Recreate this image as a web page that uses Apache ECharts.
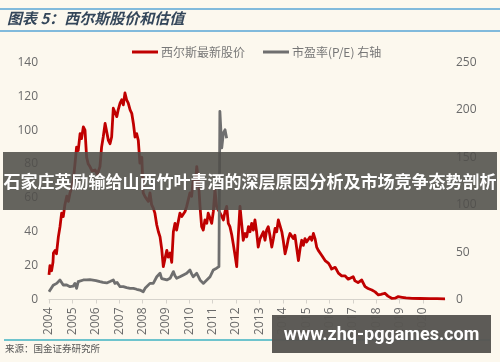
<!DOCTYPE html>
<html>
<head>
<meta charset="utf-8">
<script src="https://cdn.jsdelivr.net/npm/echarts@6/dist/echarts.min.js"></script>
<style>
html,body{margin:0;padding:0;background:#fcf8ee;}
#chart{width:500px;height:362px;}
</style>
</head>
<body>
<div id="chart"></div>
<script>
// ---- data ----
const titleText = '图表 5：西尔斯股价和估值';
const sourceText = '来源：国金证券研究所';
const bannerText = '石家庄英励输给山西竹叶青酒的深层原因分析及市场竞争态势剖析';
const watermarkText = 'www.zhq-pggames.com';
const seriesNames = ['西尔斯最新股价', '市盈率(P/E) 右轴'];
const yearTicks = [2004,2005,2006,2007,2008,2009,2010,2011,2012,2013,2014,2015,2016,2017,2018,2019,2020];
const leftTicks = [0,20,40,60,80,100,120,140];
const rightTicks = [0,50,100,150,200,250];

// share price (year, price)
const priceTimes = [2004.00,2004.04,2004.11,2004.17,2004.19,2004.26,2004.32,2004.40,2004.47,2004.54,2004.61,2004.68,2004.76,2004.83,2004.90,2004.97,
2005.04,2005.11,2005.18,2005.25,2005.33,2005.39,2005.47,2005.51,2005.54,2005.61,2005.68,2005.75,2005.84,2005.97,
2006.07,2006.18,2006.25,2006.32,2006.40,2006.44,2006.54,2006.61,2006.68,2006.75,2006.82,2006.90,2006.96,
2007.04,2007.11,2007.18,2007.25,2007.29,2007.32,2007.39,2007.47,2007.54,2007.61,2007.68,2007.75,2007.82,2007.89,2007.97,
2008.03,2008.11,2008.18,2008.25,2008.32,2008.39,2008.46,2008.53,2008.61,2008.68,2008.75,2008.82,2008.89,2008.96,
2009.04,2009.10,2009.18,2009.25,2009.32,2009.39,2009.46,2009.53,2009.60,2009.68,2009.75,2009.82,2009.89,2009.96,
2010.03,2010.10,2010.17,2010.25,2010.32,2010.39,2010.46,2010.53,2010.60,2010.67,2010.75,2010.81,2010.89,2010.96,
2011.03,2011.10,2011.17,2011.24,2011.36,2011.46,2011.53,2011.60,2011.67,2011.74,2011.82,2011.88,2011.96,
2012.03,2012.10,2012.17,2012.24,2012.31,2012.39,2012.46,2012.53,2012.60,2012.67,2012.74,2012.81,2012.88,2012.95,
2013.03,2013.10,2013.17,2013.24,2013.31,2013.38,2013.45,2013.53,2013.60,2013.67,2013.74,2013.81,2013.88,2013.96,
2014.02,2014.10,2014.17,2014.24,2014.31,2014.38,2014.45,2014.52,2014.60,2014.67,2014.74,2014.81,2014.88,2014.95,
2015.02,2015.09,2015.17,2015.24,2015.31,2015.38,2015.45,2015.52,2015.59,2015.67,2015.73,2015.81,2015.88,2015.95,
2016.02,2016.09,2016.16,2016.24,2016.31,2016.38,2016.45,2016.52,2016.59,2016.66,2016.74,2016.80,2016.88,
2017.01,2017.09,2017.22,2017.38,2017.52,2017.65,2017.81,2017.95,
2018.09,2018.20,2018.37,2018.50,2018.66,2018.80,2018.94,
2019.10,2019.27,2019.53,2019.87,2020.30,2020.60,2020.94];
const priceValues = [14.5,20,17,22,27.5,29,27,37,43,51,49,56,61,58,63,66,
70.6,80,90,88,98,95,102,102.5,100,84,80,78.5,76,76.5,
74,78.5,90,96,104,105,94,92,96,113,112,108,112,
116,118,115,122,122.7,118,116,112,110,104,96,98,94,80.6,84,
63,60.7,61,58,63,56,54,51,44,40,37,30,19.4,24,
29,25,27.5,22,40,45,41,46,51,49,49,52,55,54,
63,61,70.6,66,78.5,70.6,55,43,41,47,45,51,48,45,
52,64.7,55,53,50,47,52,55,45,43,38,33,26,
19.4,38,55,45,35,39,37,43,40,45,41,47,40,31,
36,37,40,35,41,43,38,31,36,42,40,47,47,40,
35,27,31,36,39,39,36,38,30,23,30,35,32,36,
34,33,37,35,39,36,31,29,28,26,25,23,23,21.5,
20,18,17.4,19,17.4,15.6,16,14,13,14,13.5,12,11.5,
13.5,11,10,11.5,7.6,6.5,5.6,4.5,
2.7,3,3.7,2,0.7,0.8,1.7,
1.3,0.9,0.7,0.6,0.5,0.5,0.4];

// P/E ratio (year, P/E) on right axis
const peTimes = [2004.00,2004.04,2004.18,2004.33,2004.40,2004.47,2004.54,2004.61,2004.76,2004.90,
2005.03,2005.11,2005.18,2005.25,2005.33,2005.47,2005.61,2005.75,2005.88,
2006.01,2006.18,2006.31,2006.47,2006.61,2006.75,2006.82,2006.91,
2007.04,2007.18,2007.32,2007.47,2007.61,2007.75,2007.89,2007.97,
2008.03,2008.11,2008.18,2008.32,2008.46,2008.61,2008.68,2008.75,2008.82,2008.89,
2009.04,2009.18,2009.32,2009.39,2009.46,2009.60,2009.75,2009.89,
2010.03,2010.10,2010.17,2010.32,2010.46,2010.60,2010.75,2010.89,
2011.03,2011.17,2011.27,2011.31,2011.39,2011.46,2011.53,2011.60];
const peValues = [8.2,10,15,17,15,20.6,18.8,15.3,15.3,13.5,
14,17,11.8,18.8,18.8,20.6,20.6,21,20.5,
20,18.8,18,17.5,19,20.6,17,18,
13.5,13.5,12.5,11.8,11.8,10.8,10,8.2,
8.2,11.8,13.5,17,17,24,26,27.7,22,20.6,
20.6,22.4,29.4,25,22.4,24,25.9,27.7,
31.2,27,24,27.7,20.6,17,20.6,24,
31.2,33,34.7,198.5,160,175.7,179,170];

// ---- chart ----
const priceData = priceTimes.map((t, i) => [t, priceValues[i]]);
const peData = peTimes.map((t, i) => [t, peValues[i]]);
const CJK = '"Noto Sans CJK SC", "Noto Sans", sans-serif';
const NUM = '"Open Sans", "Liberation Sans", sans-serif';

const chart = echarts.init(document.getElementById('chart'), null, {renderer: 'canvas'});
chart.setOption({
  backgroundColor: '#fcf8ee',
  animation: false,
  grid: {left: 49, right: 55, top: 62.5, bottom: 62.5},
  legend: {
    top: 41,
    left: 127,
    itemWidth: 26,
    itemHeight: 3,
    itemGap: 18,
    icon: 'rect',
    textStyle: {color: '#777', fontSize: 12, fontFamily: CJK, padding: [0, 0, 0, -2]},
    data: seriesNames
  },
  xAxis: {
    type: 'value',
    min: yearTicks[0],
    max: 2020.94,
    interval: 1,
    splitLine: {show: false},
    axisLine: {show: true, lineStyle: {color: '#d6d3cc', width: 1}},
    axisTick: {show: true, length: 4, lineStyle: {color: '#d6d3cc'}, customValues: yearTicks},
    axisLabel: {
      rotate: 90, margin: 8, color: '#6a6a6a', fontSize: 12, fontFamily: NUM,
      customValues: yearTicks,
      formatter: v => String(v)
    }
  },
  yAxis: [
    {
      type: 'value', min: 0, max: 140, interval: 20,
      splitLine: {show: false}, axisLine: {show: false}, axisTick: {show: false},
      axisLabel: {color: '#6a6a6a', fontSize: 12, fontFamily: NUM, margin: 11}
    },
    {
      type: 'value', min: 0, max: 250, interval: 50,
      splitLine: {show: false}, axisLine: {show: false}, axisTick: {show: false},
      axisLabel: {color: '#6a6a6a', fontSize: 12, fontFamily: NUM, margin: 11}
    }
  ],
  series: [
    {
      name: seriesNames[0], type: 'line', yAxisIndex: 0, data: priceData,
      showSymbol: false, symbol: 'none', z: 2,
      lineStyle: {color: '#c00000', width: 2.8, join: 'round'},
      itemStyle: {color: '#c00000'}
    },
    {
      name: seriesNames[1], type: 'line', yAxisIndex: 1, data: peData,
      showSymbol: false, symbol: 'none', z: 3,
      lineStyle: {color: '#6f6f6f', width: 2.8, join: 'round'},
      itemStyle: {color: '#6f6f6f'}
    }
  ],
  graphic: [
    {type: 'line', z: 100, shape: {x1: 0, y1: 9, x2: 500, y2: 9}, style: {stroke: '#59a6d6', lineWidth: 1.5}},
    {type: 'line', z: 100, shape: {x1: 0, y1: 31, x2: 500, y2: 31}, style: {stroke: '#59a6d6', lineWidth: 1.5}},
    {type: 'text', z: 100, left: 7, top: 11,
      style: {text: titleText, fill: '#34465a', font: 'italic bold 15px ' + CJK}},
    {type: 'line', z: 100, shape: {x1: 4, y1: 340, x2: 490, y2: 340}, style: {stroke: '#3fb3c2', lineWidth: 1.5}},
    {type: 'text', z: 100, left: 5, top: 344,
      style: {text: sourceText, fill: '#555', font: '9.5px ' + CJK}},
    {type: 'rect', z: 100, shape: {x: 3, y: 152, width: 494, height: 58},
      style: {fill: 'rgba(80,78,74,0.88)'}},
    {type: 'text', z: 101, left: 'center', top: 173,
      style: {text: bannerText, fill: '#ffffff', font: 'bold 17px ' + CJK}},
    {type: 'rect', z: 100, shape: {x: 272, y: 315, width: 219, height: 38},
      style: {fill: 'rgba(88,86,82,0.97)'}},
    {type: 'text', z: 101,
      style: {x: 381.5, y: 335, text: watermarkText, fill: '#ffffff', font: 'bold 18px Roboto, ' + NUM, align: 'center', verticalAlign: 'middle'}}
  ]
});
</script>
</body>
</html>
